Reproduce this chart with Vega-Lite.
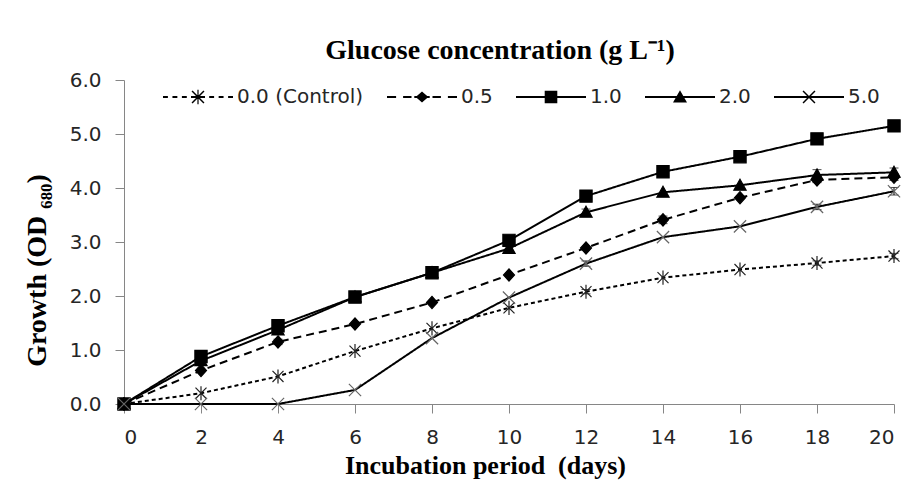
{
  "$schema": "https://vega.github.io/schema/vega-lite/v6.json",
  "width": 770,
  "height": 324,
  "autosize": "none",
  "padding": {"left": 124, "top": 80, "right": 16, "bottom": 83},
  "background": "white",
  "title": {
    "text": "Glucose concentration (g L⁻¹)",
    "font": "Liberation Serif",
    "fontWeight": "bold",
    "fontSize": 28,
    "color": "black",
    "anchor": "middle",
    "dx": -9,
    "offset": -3
  },
  "data": {
    "values": [
      {"day": 0, "conc": "0.0 (Control)", "v": 0.0, "err": 0},
      {"day": 2, "conc": "0.0 (Control)", "v": 0.2, "err": 0},
      {"day": 4, "conc": "0.0 (Control)", "v": 0.51, "err": 0},
      {"day": 6, "conc": "0.0 (Control)", "v": 0.98, "err": 0},
      {"day": 8, "conc": "0.0 (Control)", "v": 1.4, "err": 0},
      {"day": 10, "conc": "0.0 (Control)", "v": 1.78, "err": 0},
      {"day": 12, "conc": "0.0 (Control)", "v": 2.08, "err": 0.04},
      {"day": 14, "conc": "0.0 (Control)", "v": 2.34, "err": 0},
      {"day": 16, "conc": "0.0 (Control)", "v": 2.49, "err": 0},
      {"day": 18, "conc": "0.0 (Control)", "v": 2.61, "err": 0.04},
      {"day": 20, "conc": "0.0 (Control)", "v": 2.74, "err": 0.05},
      {"day": 0, "conc": "0.5", "v": 0.0, "err": 0},
      {"day": 2, "conc": "0.5", "v": 0.62, "err": 0},
      {"day": 4, "conc": "0.5", "v": 1.15, "err": 0.05},
      {"day": 6, "conc": "0.5", "v": 1.48, "err": 0},
      {"day": 8, "conc": "0.5", "v": 1.88, "err": 0},
      {"day": 10, "conc": "0.5", "v": 2.39, "err": 0},
      {"day": 12, "conc": "0.5", "v": 2.89, "err": 0},
      {"day": 14, "conc": "0.5", "v": 3.41, "err": 0.07},
      {"day": 16, "conc": "0.5", "v": 3.82, "err": 0},
      {"day": 18, "conc": "0.5", "v": 4.15, "err": 0.05},
      {"day": 20, "conc": "0.5", "v": 4.2, "err": 0.06},
      {"day": 0, "conc": "1.0", "v": 0.0, "err": 0},
      {"day": 2, "conc": "1.0", "v": 0.88, "err": 0},
      {"day": 4, "conc": "1.0", "v": 1.45, "err": 0},
      {"day": 6, "conc": "1.0", "v": 1.98, "err": 0},
      {"day": 8, "conc": "1.0", "v": 2.43, "err": 0},
      {"day": 10, "conc": "1.0", "v": 3.03, "err": 0},
      {"day": 12, "conc": "1.0", "v": 3.85, "err": 0},
      {"day": 14, "conc": "1.0", "v": 4.3, "err": 0},
      {"day": 16, "conc": "1.0", "v": 4.58, "err": 0},
      {"day": 18, "conc": "1.0", "v": 4.91, "err": 0},
      {"day": 20, "conc": "1.0", "v": 5.15, "err": 0},
      {"day": 0, "conc": "2.0", "v": 0.0, "err": 0},
      {"day": 2, "conc": "2.0", "v": 0.8, "err": 0},
      {"day": 4, "conc": "2.0", "v": 1.37, "err": 0},
      {"day": 6, "conc": "2.0", "v": 1.98, "err": 0},
      {"day": 8, "conc": "2.0", "v": 2.43, "err": 0},
      {"day": 10, "conc": "2.0", "v": 2.88, "err": 0},
      {"day": 12, "conc": "2.0", "v": 3.55, "err": 0.06},
      {"day": 14, "conc": "2.0", "v": 3.92, "err": 0},
      {"day": 16, "conc": "2.0", "v": 4.05, "err": 0},
      {"day": 18, "conc": "2.0", "v": 4.24, "err": 0.1},
      {"day": 20, "conc": "2.0", "v": 4.29, "err": 0.08},
      {"day": 0, "conc": "5.0", "v": 0.0, "err": 0},
      {"day": 2, "conc": "5.0", "v": 0.0, "err": 0},
      {"day": 4, "conc": "5.0", "v": 0.0, "err": 0},
      {"day": 6, "conc": "5.0", "v": 0.26, "err": 0},
      {"day": 8, "conc": "5.0", "v": 1.22, "err": 0},
      {"day": 10, "conc": "5.0", "v": 1.97, "err": 0},
      {"day": 12, "conc": "5.0", "v": 2.6, "err": 0.05},
      {"day": 14, "conc": "5.0", "v": 3.09, "err": 0},
      {"day": 16, "conc": "5.0", "v": 3.29, "err": 0},
      {"day": 18, "conc": "5.0", "v": 3.65, "err": 0.05},
      {"day": 20, "conc": "5.0", "v": 3.94, "err": 0.07}
    ]
  },
  "encoding": {
    "x": {
      "field": "day",
      "type": "quantitative",
      "scale": {"domain": [0, 20], "nice": false, "zero": false},
      "axis": {
        "values": [0, 2, 4, 6, 8, 10, 12, 14, 16, 18, 20],
        "title": "Incubation period\u00a0 (days)",
        "titlePadding": 5,
        "titleX": 361
      }
    },
    "y": {
      "field": "v",
      "type": "quantitative",
      "scale": {"domain": [0, 6], "nice": false},
      "axis": {
        "values": [0, 1, 2, 3, 4, 5, 6],
        "format": ".1f",
        "title": "Growth (OD ₆₈₀)",
        "titleFontSize": 28,
        "titlePadding": 18,
        "titleY": 190
      }
    }
  },
  "layer": [
    {
      "mark": {"type": "line", "color": "black", "strokeWidth": 2},
      "encoding": {
        "detail": {"field": "conc"},
        "strokeDash": {
          "field": "conc",
          "type": "nominal",
          "scale": {
            "domain": ["0.0 (Control)", "0.5", "1.0", "2.0", "5.0"],
            "range": [[4, 3], [8, 5], [1, 0], [1, 0], [1, 0]]
          },
          "legend": null
        }
      }
    },
    {
      "transform": [{"filter": "datum.err > 0"}],
      "mark": {"type": "errorbar", "ticks": {"size": 9}, "color": "black", "thickness": 1},
      "encoding": {
        "yError": {"field": "err"}
      }
    },
    {
      "mark": {"type": "point", "fill": "black", "stroke": "black", "strokeWidth": 1.2, "size": 150, "opacity": 1},
      "encoding": {
        "shape": {
          "field": "conc",
          "type": "nominal",
          "scale": {
            "domain": ["0.0 (Control)", "0.5", "1.0", "2.0", "5.0"],
            "range": [
              "M-0.9,-0.9L0.9,0.9M-0.9,0.9L0.9,-0.9M0,-1.15V1.15",
              "M0,-1L0.9,0L0,1L-0.9,0Z",
              "M-1,-1H1V1H-1Z",
              "M0,-1L1,0.8H-1Z",
              "M-1,-1L1,1M-1,1L1,-1"
            ]
          },
          "legend": null
        },
        "stroke": {
          "field": "conc",
          "type": "nominal",
          "scale": {
            "domain": ["0.0 (Control)", "0.5", "1.0", "2.0", "5.0"],
            "range": ["#222222", "black", "black", "black", "#666666"]
          },
          "legend": null
        }
      }
    },
    {
      "mark": {"type": "point", "filled": true, "fill": "black", "opacity": 0},
      "encoding": {
        "shape": {
          "field": "conc",
          "type": "nominal",
          "scale": {
            "domain": ["0.0 (Control)", "0.5", "1.0", "2.0", "5.0"],
            "range": [
              "M-1,-0.03H-0.86V0.03H-1ZM-0.73,-0.03H-0.59V0.03H-0.73ZM-0.46,-0.03H-0.32V0.03H-0.46ZM-0.2,-0.03H0.2V0.03H-0.2ZM0.32,-0.03H0.46V0.03H0.32ZM0.59,-0.03H0.73V0.03H0.59ZM0.86,-0.03H1V0.03H0.86ZM-0.155,-0.185L0.185,0.155L0.155,0.185L-0.185,-0.155ZM-0.185,0.155L0.155,-0.185L0.185,-0.155L-0.155,0.185ZM-0.017,-0.21H0.017V0.21H-0.017Z",
              "M-1,-0.03H-0.74V0.03H-1ZM-0.54,-0.03H-0.3V0.03H-0.54ZM-0.22,-0.03H0.22V0.03H-0.22ZM0.3,-0.03H0.54V0.03H0.3ZM0.74,-0.03H1V0.03H0.74ZM0,-0.16L0.18,0L0,0.16L-0.18,0Z",
              "M-1,-0.03H1V0.03H-1ZM-0.18,-0.18H0.18V0.18H-0.18Z",
              "M-1,-0.03H1V0.03H-1ZM0,-0.19L0.2,0.16H-0.2Z",
              "M-1,-0.03H1V0.03H-1ZM-0.155,-0.185L0.185,0.155L0.155,0.185L-0.185,-0.155ZM-0.185,0.155L0.155,-0.185L0.185,-0.155L-0.155,0.185Z"
            ]
          },
          "legend": {
            "title": null,
            "orient": "none",
            "direction": "horizontal",
            "legendX": 39,
            "legendY": -18,
            "symbolSize": 4900,
            "symbolStrokeWidth": 0,
            "symbolFillColor": "black",
            "symbolOpacity": 1,
            "labelFont": "DejaVu Sans",
            "labelFontSize": 20,
            "labelColor": "#262626",
            "labelOffset": 4,
            "columnPadding": 23,
            "labelLimit": 300,
            "encode": {
              "symbols": {
                "opacity": {"value": 1},
                "fill": {"value": "black"},
                "fillOpacity": {"value": 1}
              }
            }
          }
        }
      }
    }
  ],
  "resolve": {"scale": {"shape": "independent"}, "legend": {"shape": "independent"}},
  "config": {
    "view": {"stroke": null},
    "axis": {
      "grid": false,
      "domainColor": "#868686",
      "tickColor": "#868686",
      "tickSize": 9,
      "labelFont": "DejaVu Sans",
      "labelFontSize": 20,
      "labelColor": "#262626",
      "labelPadding": 14,
      "titleFont": "Liberation Serif",
      "titleFontWeight": "bold",
      "titleFontSize": 26,
      "titleColor": "black"
    },
    "axisY": {"labelPadding": 14}
  }
}
